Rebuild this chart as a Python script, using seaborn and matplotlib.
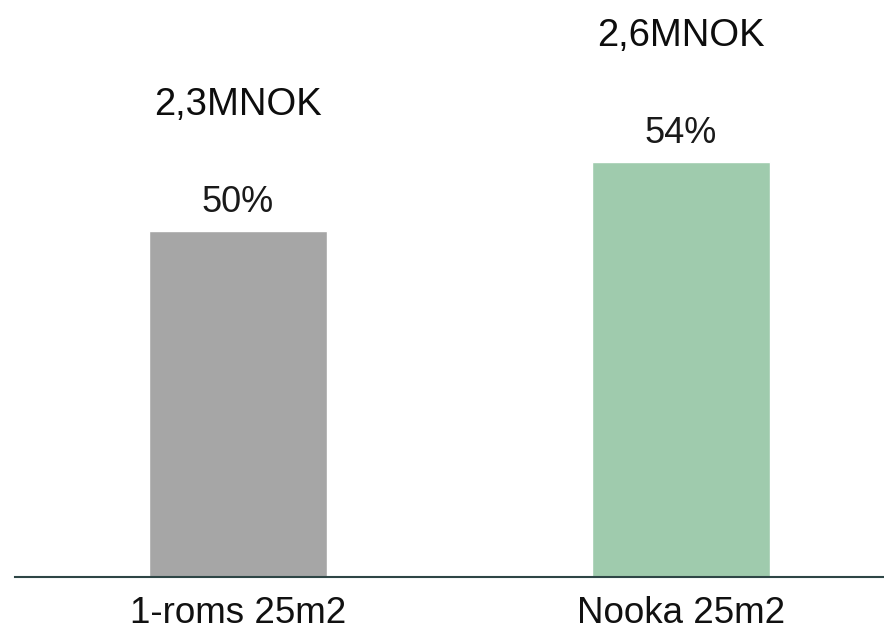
import matplotlib
matplotlib.use("Agg")
import matplotlib.pyplot as plt
import seaborn as sns
import pandas as pd

categories = ["1-roms 25m2", "Nooka 25m2"]
pct_values = [50, 54]
pct_labels = ["50%", "54%"]
price_labels = ["2,3MNOK", "2,6MNOK"]
bar_colors = ["#A6A6A6", "#9FCBAD"]

sns.set_theme(style="white")
plt.rcParams["font.family"] = ["Liberation Sans", "DejaVu Sans"]

df = pd.DataFrame({"cat": categories, "pct": pct_values})

fig = plt.figure(figsize=(8.84, 6.38), dpi=100)
ax = fig.add_axes([15 / 884, 61 / 638, 1 - 15 / 884, 1 - 61 / 638])

sns.barplot(data=df, x="cat", y="pct", hue="cat", palette=bar_colors,
            width=0.4, legend=False, ax=ax, saturation=1)

ax.set_ylim(30, 63.35)
ax.set_xlim(-0.503, 1.458)

for i, (v, pl, ml) in enumerate(zip(pct_values, pct_labels, price_labels)):
    ax.annotate(pl, (i, v), xytext=(0, 19 * 0.72), textcoords="offset points",
                ha="center", va="baseline", fontsize=26, color="#1a1a1a")
    ax.annotate(ml, (i, v), xytext=(0, 116 * 0.72), textcoords="offset points",
                ha="center", va="baseline", fontsize=27.5, color="#0d0d0d")

for s in ["top", "left", "right"]:
    ax.spines[s].set_visible(False)
ax.spines["bottom"].set_color("#2E4646")
ax.spines["bottom"].set_linewidth(1.5)
ax.set_yticks([])
ax.set_xlabel("")
ax.set_ylabel("")
ax.tick_params(axis="x", length=0, pad=13.5, labelsize=26.5, labelcolor="#111111")

fig.savefig("out.png", dpi=100)
